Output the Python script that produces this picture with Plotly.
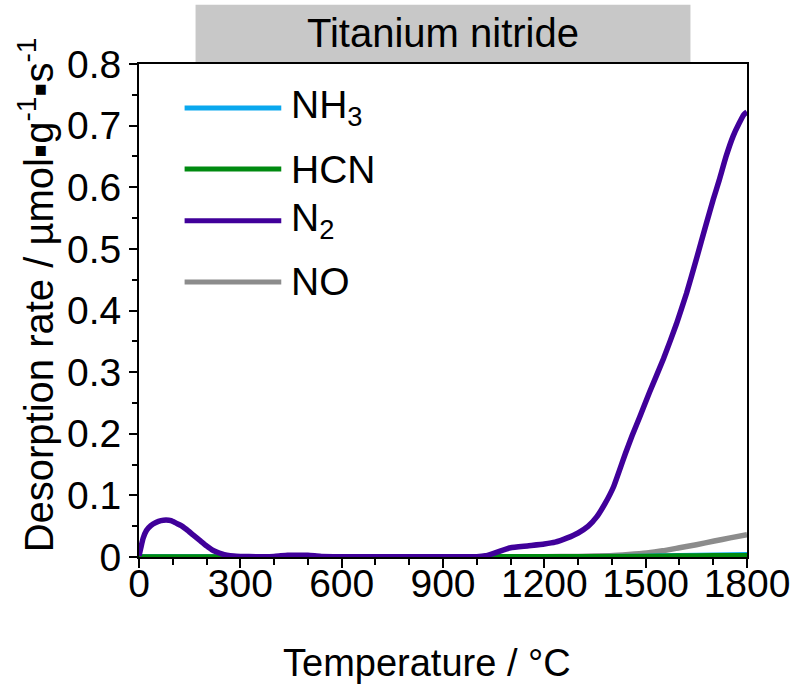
import plotly.graph_objects as go

# ---- data ----
n2_T = [0, 5, 12, 22, 35, 50, 65, 80, 95, 110, 125, 140, 160, 180, 200, 215, 230, 245, 260, 280, 300,
        350, 400, 420, 440, 460, 480, 500, 520, 540, 600, 700, 800, 900, 1000, 1026, 1050, 1071,
        1100, 1150, 1200, 1232, 1268, 1300, 1330, 1355, 1380, 1405, 1424, 1440, 1460, 1483, 1512, 1553,
        1591, 1621, 1650, 1679, 1700, 1718, 1738, 1759, 1776, 1791, 1800]
n2_v = [0.002, 0.014, 0.030, 0.043, 0.051, 0.056, 0.059, 0.060, 0.059, 0.055, 0.051, 0.045, 0.036, 0.027,
        0.018, 0.012, 0.008, 0.005, 0.003, 0.0015, 0.001,
        0.0005, 0.0008, 0.002, 0.003, 0.003, 0.003, 0.003, 0.002, 0.0008, 0.0005, 0.0005, 0.0005, 0.0005,
        0.0005, 0.002, 0.006, 0.010,
        0.015, 0.018, 0.021, 0.024, 0.031, 0.039, 0.050, 0.065, 0.087, 0.114, 0.143, 0.168, 0.197, 0.228,
        0.268, 0.322, 0.378, 0.428, 0.483, 0.540, 0.580, 0.612, 0.650, 0.683, 0.703, 0.718, 0.722]

no_T = [0, 300, 600, 900, 1200, 1300, 1394, 1450, 1503, 1550, 1600, 1650, 1703, 1750, 1800]
no_v = [0.0003, 0.0003, 0.0003, 0.0003, 0.0005, 0.001, 0.002, 0.004, 0.0065, 0.010, 0.015, 0.020,
        0.026, 0.031, 0.036]

hcn_T = [0, 600, 1200, 1500, 1600, 1700, 1800]
hcn_v = [0.0, 0.0, 0.0003, 0.0008, 0.0015, 0.002, 0.002]

nh3_T = [0, 600, 1200, 1500, 1600, 1700, 1800]
nh3_v = [0.0, 0.0, 0.0003, 0.001, 0.002, 0.003, 0.0035]

series = [
    ("NH<sub>3</sub>", nh3_T, nh3_v, "#0aa8ee"),
    ("HCN", hcn_T, hcn_v, "#008a10"),
    ("N<sub>2</sub>", n2_T, n2_v, "#40009a"),
    ("NO", no_T, no_v, "#8c8c8c"),
]
draw_order = [3, 0, 1, 2]

x_ticks = [0, 300, 600, 900, 1200, 1500, 1800]
y_ticks = [0, 0.1, 0.2, 0.3, 0.4, 0.5, 0.6, 0.7, 0.8]
y_tick_labels = ["0", "0.1", "0.2", "0.3", "0.4", "0.5", "0.6", "0.7", "0.8"]

FONT = "Liberation Sans, Arial, sans-serif"

fig = go.Figure()
for i in draw_order:
    name, T, v, col = series[i]
    fig.add_trace(go.Scatter(x=T, y=v, mode="lines", name=name, showlegend=False,
                             line=dict(color=col, width=5.5, shape="spline", smoothing=0.4)))

fig.update_layout(
    width=802, height=684,
    margin=dict(l=139, r=51, t=64, b=127),
    paper_bgcolor="white", plot_bgcolor="white",
    font=dict(family=FONT, color="black"),
    showlegend=False,
)

fig.update_xaxes(
    range=[0, 1800], tickvals=x_ticks, ticktext=[str(t) for t in x_ticks],
    ticks="outside", ticklen=9, tickwidth=2, tickcolor="black",
    minor=dict(dtick=100, ticks="outside", ticklen=6, tickwidth=2, tickcolor="black", showgrid=False),
    showline=True, linewidth=2, linecolor="black", mirror=True,
    showgrid=False, zeroline=False, ticklabelstandoff=-18,
    tickfont=dict(size=39, family=FONT), fixedrange=True,
)
fig.update_yaxes(
    range=[0, 0.8], tickvals=y_ticks, ticktext=y_tick_labels,
    ticks="outside", ticklen=8, tickwidth=2, tickcolor="black",
    minor=dict(dtick=0.05, ticks="outside", ticklen=5, tickwidth=2, tickcolor="black", showgrid=False),
    showline=True, linewidth=2, linecolor="black", mirror=True,
    showgrid=False, zeroline=False,
    tickfont=dict(size=39, family=FONT),
)

# y-axis title
fig.add_annotation(text="Desorption rate / µmol▪g<sup>-1</sup>▪s<sup>-1</sup>",
                   xref="paper", yref="paper", x=-0.17, y=0.532, textangle=-90,
                   xanchor="center", yanchor="middle", showarrow=False,
                   font=dict(size=40, family=FONT))

# x-axis title
fig.add_annotation(text="Temperature / °C", xref="paper", yref="paper", x=0.474, y=-0.216,
                   xanchor="center", yanchor="middle", showarrow=False,
                   font=dict(size=38, family=FONT))

# header box
fig.add_shape(type="rect", xref="paper", yref="paper", x0=0.093, x1=0.907, y0=1.0, y1=1.12,
              fillcolor="#c8c8c8", line=dict(width=0), layer="below")
fig.add_annotation(text="Titanium nitride", xref="paper", yref="paper", x=0.5, y=1.062,
                   xanchor="center", yanchor="middle", showarrow=False,
                   font=dict(size=40, family=FONT))

# manual legend (long line samples like the reference)
leg_y = [0.911, 0.787, 0.682, 0.558]
for (name, T, v, col), yy in zip(series, leg_y):
    fig.add_shape(type="line", xref="paper", yref="paper", x0=0.075, x1=0.234, y0=yy, y1=yy,
                  line=dict(color=col, width=5))
    fig.add_annotation(text=name, xref="paper", yref="paper", x=0.247, y=yy,
                       xanchor="left", yanchor="middle", showarrow=False,
                       font=dict(size=39, family=FONT))

fig.write_html("out.html")
